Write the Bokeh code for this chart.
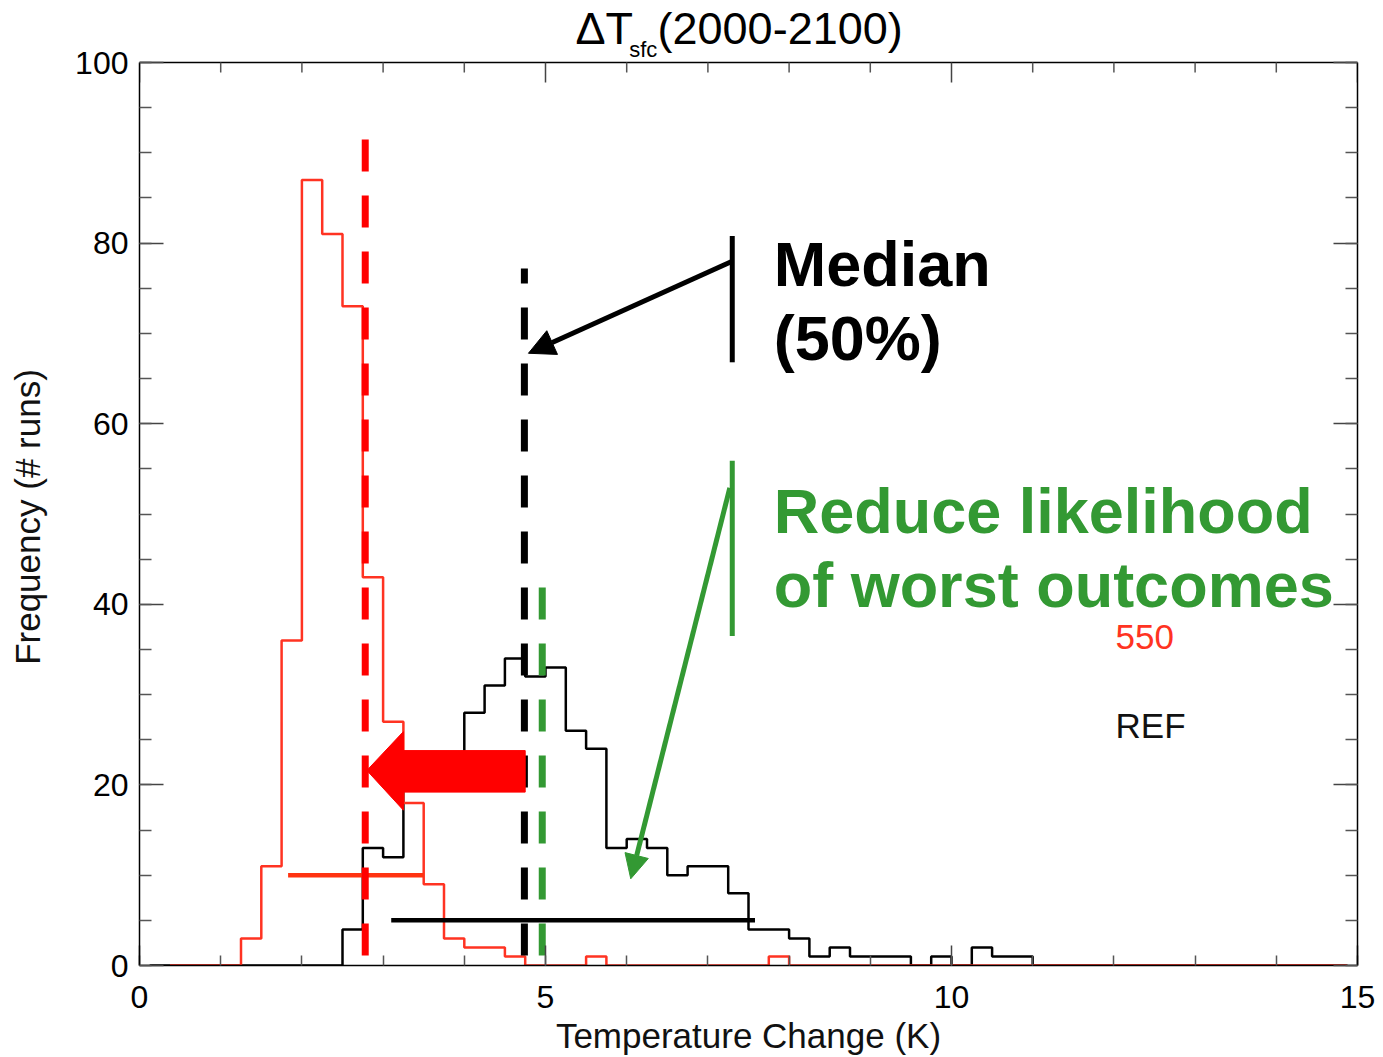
import numpy as np
from bokeh.plotting import figure
from bokeh.models import (Range1d, LinearAxis, FixedTicker, Label, Arrow, NormalHead)
from bokeh.embed import file_html
from bokeh.resources import INLINE

# ---------------- data ----------------
bin_width = 0.25
# REF histogram counts, bins of 0.25 K starting at 0 K
ref_counts = [0, 0, 0, 0, 0, 0, 0, 0, 0, 0,
              4, 13, 12, 21, 22, 22, 28, 31, 34, 32,
              33, 26, 24, 13, 14, 13, 10, 11, 11, 8,
              4, 4, 3, 1, 2, 1, 1, 1, 0, 1,
              0, 2, 1, 1, 0, 0, 0, 0, 0, 0,
              0, 0, 0, 0, 0, 0, 0, 0, 0, 0]
# 550 ppm stabilisation histogram counts
s550_counts = [0, 0, 0, 0, 0, 3, 11, 36, 87, 81,
               73, 43, 27, 18, 9, 3, 2, 2, 1, 0,
               0, 0, 1, 0, 0, 0, 0, 0, 0, 0,
               0, 1, 0, 0, 0, 0, 0, 0, 0, 0,
               0, 0, 0, 0, 0, 0, 0, 0, 0, 0,
               0, 0, 0, 0, 0, 0, 0, 0, 0, 0]
ref_line_start = 0.125
s550_line_start = 0.375
hist_line_end = 14.875

# medians / markers
median_550 = 2.78
median_ref = 4.74
green_mark = 4.96
marker_bottom = 1.1
median_550_top = 91.5
median_ref_top = 77.2
green_top = 42.1

# 90% ranges (horizontal bars)
s550_range = [1.83, 3.5]
s550_range_y = 10
ref_range = [3.1, 7.58]
ref_range_y = 5

x_ticks = [0, 5, 10, 15]
x_minor = list(range(0, 16))
y_ticks = [0, 20, 40, 60, 80, 100]
y_minor = list(range(0, 101, 5))
y_max = 100

FONT = "Liberation Sans"
RED_H = "#ff3322"
GREEN = "#339933"

W, H = 1383, 1057
FRAME_L, FRAME_T, FRAME_R, FRAME_B = 139, 62, 1357, 965
PX_PER_UNIT = (FRAME_B - FRAME_T) / 100.0
# the plotting frame reaches the top of the canvas so the title can live in it
y_top = y_max + FRAME_T / PX_PER_UNIT


def step_xy(counts, x_first, x_last):
    xs, ys = [], []
    for i, c in enumerate(counts):
        lo = i * bin_width
        xs += [lo, lo + bin_width]
        ys += [c, c]
    xs = np.clip(np.array(xs), x_first, x_last)
    return xs, np.array(ys)


p = figure(width=W, height=H, x_range=Range1d(0, 15), y_range=Range1d(0, y_top),
           output_backend="svg", toolbar_location=None,
           x_axis_location=None, y_axis_location=None,
           min_border_left=FRAME_L, min_border_right=W - FRAME_R,
           min_border_top=0, min_border_bottom=H - FRAME_B)
p.xgrid.grid_line_color = None
p.ygrid.grid_line_color = None
p.outline_line_color = None


def make_axis(kind, labels):
    ax = LinearAxis()
    if kind == "x":
        ax.ticker = FixedTicker(ticks=x_ticks, minor_ticks=x_minor)
        ax.major_tick_in = 20
        ax.minor_tick_in = 10
    else:
        ax.ticker = FixedTicker(ticks=y_ticks, minor_ticks=y_minor)
        ax.major_tick_in = 24
        ax.minor_tick_in = 12
        ax.bounds = (0, y_max)
    ax.major_tick_out = 0
    ax.minor_tick_out = 0
    ax.axis_line_color = "black"
    ax.axis_line_width = 1.5
    ax.major_tick_line_color = "#444444"
    ax.minor_tick_line_color = "#555555"
    ax.major_tick_line_width = 1.5
    ax.minor_tick_line_width = 1.5
    ax.major_label_text_font = FONT
    ax.major_label_text_color = "black"
    if labels:
        ax.major_label_text_font_size = "32px"
    else:
        ax.major_label_text_font_size = "1px"
        ax.major_label_text_alpha = 0
        ax.major_label_standoff = 0
    return ax


left = make_axis("y", True)
left.major_label_standoff = 11
# trailing no-break spaces re-centre the label on the 0-100 part of the axis
left.axis_label = "Frequency (# runs)" + "\u00a0" * 7
left.axis_label_text_font = FONT
left.axis_label_text_font_size = "35px"
left.axis_label_text_font_style = "normal"
left.axis_label_text_color = "#111111"
left.axis_label_standoff = 25
p.add_layout(left, "left")

bottom = make_axis("x", True)
bottom.major_label_standoff = 20
bottom.axis_label = "Temperature Change (K)"
bottom.axis_label_text_font = FONT
bottom.axis_label_text_font_size = "35px"
bottom.axis_label_text_font_style = "normal"
bottom.axis_label_text_color = "#111111"
bottom.axis_label_standoff = 5
p.add_layout(bottom, "below")

p.add_layout(make_axis("y", False), "right")

# top border with its inward ticks
p.segment(x0=[x_ticks[0]], y0=[y_max], x1=[x_ticks[-1]], y1=[y_max],
          line_color="black", line_width=1.5)
minor_only = [v for v in x_minor if v not in x_ticks]
p.segment(x0=minor_only, y0=[y_max] * len(minor_only), x1=minor_only,
          y1=[y_max - 10 / PX_PER_UNIT] * len(minor_only), line_color="#555555", line_width=1.5)
p.segment(x0=x_ticks, y0=[y_max] * len(x_ticks), x1=x_ticks,
          y1=[y_max - 20 / PX_PER_UNIT] * len(x_ticks), line_color="#444444", line_width=1.5)

# histograms
rx, ry = step_xy(ref_counts, ref_line_start, hist_line_end)
p.line(rx, ry, line_color="black", line_width=2.5)
sx, sy = step_xy(s550_counts, s550_line_start, hist_line_end)
p.line(sx, sy, line_color=RED_H, line_width=2.5)

# range bars
p.segment(x0=[s550_range[0]], y0=[s550_range_y], x1=[s550_range[1]], y1=[s550_range_y],
          line_color="#ff3311", line_width=4.5)
p.segment(x0=[ref_range[0]], y0=[ref_range_y], x1=[ref_range[1]], y1=[ref_range_y],
          line_color="black", line_width=4.5)

# dashed median markers
p.segment(x0=[median_550], y0=[marker_bottom], x1=[median_550], y1=[median_550_top],
          line_color="#ff0000", line_width=7, line_dash="32 24")
p.segment(x0=[median_ref], y0=[marker_bottom], x1=[median_ref], y1=[median_ref_top],
          line_color="black", line_width=7, line_dash="32 24")
p.segment(x0=[green_mark], y0=[marker_bottom], x1=[green_mark], y1=[green_top],
          line_color=GREEN, line_width=7, line_dash="32 24")

# big red shift arrow (polygon in data units)
shift_arrow_x = [4.75, 3.25, 3.25, 2.80, 3.25, 3.25, 4.75]
shift_arrow_y = [23.8, 23.8, 25.9, 21.6, 17.2, 19.2, 19.2]
p.patch(shift_arrow_x, shift_arrow_y, fill_color="#ff0000", line_color="#ff0000", line_width=1)

# annotation bars and arrows
bar_x = 7.30
p.segment(x0=[bar_x], y0=[80.8], x1=[bar_x], y1=[66.8], line_color="black", line_width=5)
p.segment(x0=[bar_x], y0=[55.9], x1=[bar_x], y1=[36.5], line_color=GREEN, line_width=5)

p.add_layout(Arrow(end=NormalHead(size=26, fill_color="black", line_color="black"),
                   x_start=bar_x, y_start=78.0, x_end=4.79, y_end=67.8,
                   line_color="black", line_width=5))
p.add_layout(Arrow(end=NormalHead(size=24, fill_color=GREEN, line_color=GREEN),
                   x_start=bar_x - 0.03, y_start=52.9, x_end=6.05, y_end=9.6,
                   line_color=GREEN, line_width=5))


def lab(x, y, text, size_px, color="black", bold=False):
    p.add_layout(Label(x=x, y=y, text=text,
                       text_font=FONT, text_font_size=f"{size_px}px",
                       text_color=color, text_font_style="bold" if bold else "normal",
                       text_align="left", text_baseline="alphabetic"))


def plab(x, baseline_page_y, text, size_px, color="black", bold=False):
    # the label anchor sits ~0.38 em above the rendered baseline
    y = (FRAME_B - baseline_page_y) / PX_PER_UNIT + 0.38 * size_px / PX_PER_UNIT
    lab(x, y, text, size_px, color, bold)


plab(7.81, 287, "Median", 63, bold=True)
plab(7.81, 361, "(50%)", 63, bold=True)
plab(7.81, 534, "Reduce likelihood", 63, GREEN, bold=True)
plab(7.81, 608, "of worst outcomes", 63, GREEN, bold=True)
plab(12.02, 650, "550", 35, RED_H)
plab(12.02, 738, "REF", 35, "#111111")

# title  ΔT_sfc(2000-2100)
plab(5.37, 45, "\u0394T", 45)
plab(6.03, 57, "sfc", 22)
plab(6.38, 45, "(2000-2100)", 45)

open("out.html", "w").write(file_html(p, INLINE))
